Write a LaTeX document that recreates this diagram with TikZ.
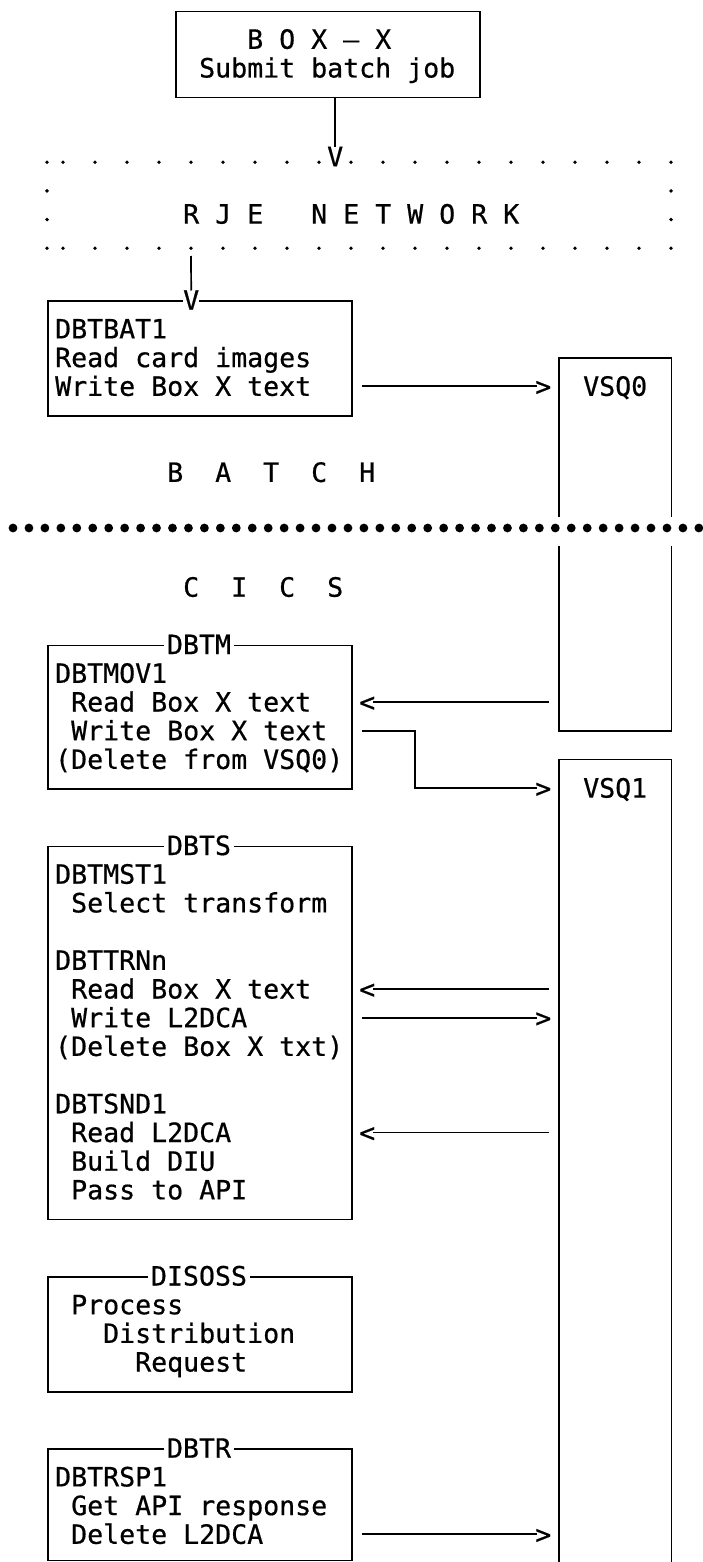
\documentclass[tikz,border=0pt]{standalone}
\usepackage{fontspec}
\newfontfamily\mono[FakeBold=0.6]{DejaVu Sans Mono}
\tikzset{
  txt/.style={anchor=base west, inner sep=0pt, font={\mono\fontsize{26.58}{28.7}\selectfont}},
  glyph/.style={txt, text height=19pt, text depth=0pt},
  boxx/.style={draw, line width=1.8pt, anchor=north west, inner sep=0pt, minimum width=304pt},
  lbl/.style={txt, anchor=base, fill=white, inner xsep=3pt, inner ysep=0pt},
  conn/.style={line width=1.7pt},
  qline/.style={line width=1.8pt},
}
\begin{document}
\begin{tikzpicture}[x=1pt,y=-1pt]
\useasboundingbox (0,0) rectangle (702,1562);
\fill[white] (0,0) rectangle (702,1562);

% ---------- top box ----------
\node[boxx, minimum height=86.1pt] (boxx) at (175,10.6) {};
\node[txt] (t1) at (247,48.8) {B O X – X};
\node[txt] (t2) at (199,77.5) {Submit batch job};

% ---------- RJE network ----------
\foreach \yy in {162.2,248.3}{
  \fill (47,\yy) circle (1.9pt);
  \foreach \j in {0,...,19} \fill ({63+32*\j},\yy) circle (1.9pt);
}
\foreach \yy in {190.9,219.6}{
  \fill (47,\yy) circle (1.9pt);
  \fill (671,\yy) circle (1.9pt);
}
\node[txt] (rje) at (183,223.6) {R J E~~~N E T W O R K};
\node[glyph] (v1) at (327,166.2) {V};
\draw[conn] (v1.north |- boxx.south) -- (v1.north);

% ---------- DBTBAT1 ----------
\node[boxx, minimum height=114.8pt] (bat) at (47,300.2) {};
\coordinate (c2) at (191,256);
\node[glyph, fill=white] (v2) at (183,309.7) {V};
\draw[conn] (c2) -- (v2.north);
\node[txt] (b1) at (55,338.4) {DBTBAT1};
\node[txt] (b2) at (55,367.1) {Read card images};
\node[txt] (b3) at (55,395.8) {Write Box X text};

% ---------- VSQ0 ----------
\node[inner sep=0pt, anchor=north west, minimum width=112pt, minimum height=373.1pt] (q0) at (559,357.6) {};
\node[txt] (q0t) at (583,395.8) {VSQ0};
\coordinate (gA) at (0,517);
\coordinate (gB) at (0,546);
\draw[qline] (q0.west |- gA) -- (q0.north west) -- (q0.north east) -- (q0.east |- gA);
\draw[qline] (q0.west |- gB) -- (q0.south west) -- (q0.south east) -- (q0.east |- gB);

\node[glyph] (gt1) at (535,395.8) {>};
\draw[conn, shorten <=9pt] (gt1.west -| bat.east) -- ([xshift=2pt]gt1.west);

\node[txt] (batch) at (167,481.9) {B~~A~~T~~C~~H};

% ---------- separator ----------
\foreach \i in {0,...,43} \fill ({13+15.95*\i},528) circle (4.4pt);

\node[txt] (cics) at (183,596.7) {C~~I~~C~~S};

% ---------- DBTM ----------
\node[boxx, minimum height=143.5pt] (dbtm) at (47,644.6) {};
\node[lbl] (dbtmL) at (199,654.1) {DBTM};
\node[txt] (m1) at (55,682.8) {DBTMOV1};
\node[txt] (m2) at (71,711.5) {Read Box X text};
\node[txt] (m3) at (71,740.2) {Write Box X text};
\node[txt] (m4) at (55,768.9) {(Delete from VSQ0)};

% ---------- VSQ1 ----------
\node[inner sep=0pt, anchor=north west, minimum width=112pt, minimum height=804pt] (q1) at (559,759.4) {};
\draw[qline] (q1.south west) -- (q1.north west) -- (q1.north east) -- (q1.south east);
\node[txt] (q1t) at (583,797.6) {VSQ1};

\node[glyph] (lt1) at (359,711.5) {<};
\draw[conn, shorten >=10pt] ([xshift=-2pt]lt1.east) -- (lt1.east -| q0.west);
\node[glyph] (gt2) at (535,797.6) {>};
\coordinate (bend) at (415,730.7);
\draw[conn, shorten <=9pt] (bend -| dbtm.east) -- (bend) |- ([xshift=2pt]gt2.west);

% ---------- DBTS ----------
\node[boxx, minimum height=373.1pt] (dbts) at (47,845.5) {};
\node[lbl] (dbtsL) at (199,855) {DBTS};
\node[txt] (s1) at (55,883.7) {DBTMST1};
\node[txt] (s2) at (71,912.4) {Select transform};
\node[txt] (s3) at (55,969.8) {DBTTRNn};
\node[txt] (s4) at (71,998.5) {Read Box X text};
\node[txt] (s5) at (71,1027.2) {Write L2DCA};
\node[txt] (s6) at (55,1055.9) {(Delete Box X txt)};
\node[txt] (s7) at (55,1113.3) {DBTSND1};
\node[txt] (s8) at (71,1142) {Read L2DCA};
\node[txt] (s9) at (71,1170.7) {Build DIU};
\node[txt] (s10) at (71,1199.4) {Pass to API};

\node[glyph] (lt2) at (359,998.5) {<};
\draw[conn, shorten >=10pt] ([xshift=-2pt]lt2.east) -- (lt2.east -| q1.west);
\node[glyph] (gt3) at (535,1027.2) {>};
\draw[conn, shorten <=9pt] (gt3.west -| dbts.east) -- ([xshift=2pt]gt3.west);
\node[glyph] (lt3) at (359,1142) {<};
\draw[conn, shorten >=10pt] ([xshift=-2pt]lt3.east) -- (lt3.east -| q1.west);

% ---------- DISOSS ----------
\node[boxx, minimum height=114.8pt] (disoss) at (47,1276) {};
\node[lbl] (disossL) at (199,1285.5) {DISOSS};
\node[txt] (d1) at (71,1314.2) {Process};
\node[txt] (d2) at (103,1342.9) {Distribution};
\node[txt] (d3) at (135,1371.6) {Request};

% ---------- DBTR ----------
\node[boxx, minimum height=111.3pt] (dbtr) at (47,1448.2) {};
\node[lbl] (dbtrL) at (199,1457.7) {DBTR};
\node[txt] (r1) at (55,1486.4) {DBTRSP1};
\node[txt] (r2) at (71,1515.1) {Get API response};
\node[txt] (r3) at (71,1543.8) {Delete L2DCA};
\node[glyph] (gt4) at (535,1543.8) {>};
\draw[conn, shorten <=9pt] (gt4.west -| dbtr.east) -- ([xshift=2pt]gt4.west);
\end{tikzpicture}
\end{document}
